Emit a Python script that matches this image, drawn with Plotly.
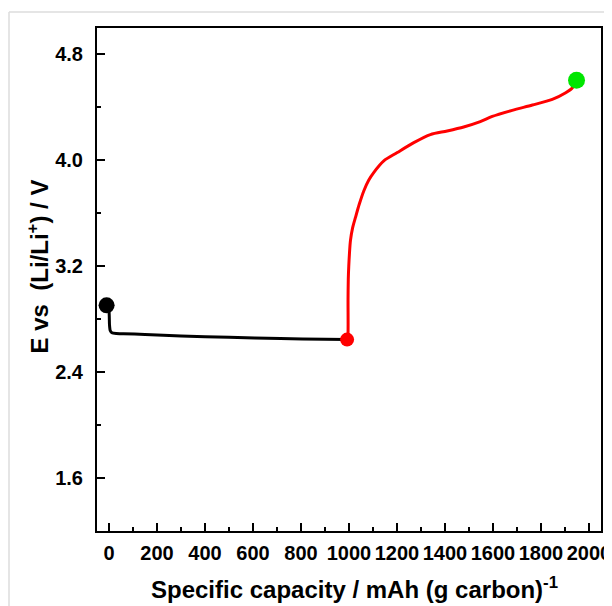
import plotly.graph_objects as go

# Discharge (black) curve
discharge_x = [-8, 0, 2, 5, 12, 30, 60, 150, 300, 500, 714, 900, 992]
discharge_y = [2.90, 2.86, 2.76, 2.715, 2.698, 2.692, 2.690, 2.685, 2.673, 2.663, 2.654, 2.649, 2.646]

# Charge (red) curve
charge_x = [994, 996, 996, 997, 999, 1002, 1006, 1015, 1027, 1043, 1062, 1082, 1103, 1145, 1201, 1270,
            1339, 1409, 1478, 1547, 1597, 1680, 1764, 1847, 1903, 1931, 1948]
charge_y = [2.646, 2.70, 2.95, 3.10, 3.20, 3.30, 3.394, 3.49, 3.569, 3.67, 3.771, 3.85, 3.908, 3.996,
            4.059, 4.134, 4.195, 4.222, 4.252, 4.292, 4.332, 4.378, 4.418, 4.461, 4.511, 4.549, 4.606]

# End-point markers
start_pt = (-10, 2.905)
mid_pt = (992, 2.646)
end_pt = (1948, 4.606)

x_ticks = [0, 200, 400, 600, 800, 1000, 1200, 1400, 1600, 1800, 2000]
y_ticks = [1.6, 2.4, 3.2, 4.0, 4.8]

fig = go.Figure()
fig.add_trace(go.Scatter(x=discharge_x, y=discharge_y, mode="lines",
                         line=dict(color="black", width=3, shape="spline", smoothing=0.5),
                         showlegend=False, hoverinfo="skip"))
fig.add_trace(go.Scatter(x=charge_x, y=charge_y, mode="lines",
                         line=dict(color="#ff0000", width=3, shape="spline", smoothing=0.8),
                         showlegend=False, hoverinfo="skip"))
fig.add_trace(go.Scatter(x=[start_pt[0]], y=[start_pt[1]], mode="markers",
                         marker=dict(color="black", size=16), showlegend=False))
fig.add_trace(go.Scatter(x=[mid_pt[0]], y=[mid_pt[1]], mode="markers",
                         marker=dict(color="#ff0000", size=14), showlegend=False))
fig.add_trace(go.Scatter(x=[end_pt[0]], y=[end_pt[1]], mode="markers",
                         marker=dict(color="#00e600", size=17), showlegend=False))

font_family = "Liberation Sans, Arial, sans-serif"

fig.update_layout(
    width=612, height=606,
    margin=dict(l=89, r=19, t=20, b=83),
    paper_bgcolor="white", plot_bgcolor="white",
    font=dict(family=font_family, color="black"),
    xaxis=dict(range=[-50, 2050], tickvals=x_ticks, ticktext=[f"<b>{v}</b>" for v in x_ticks],
               ticks="inside", ticklen=8, tickwidth=1.5, tickcolor="black",
               minor=dict(dtick=100, tick0=0, ticks="inside", ticklen=4, tickwidth=1.5, tickcolor="black"),
               showline=True, linecolor="black", linewidth=2, mirror=True,
               showgrid=False, zeroline=False, automargin=False,
               tickfont=dict(size=20, family=font_family),
               ticklabelstandoff=3),
    yaxis=dict(range=[1.2, 5.0], tickvals=y_ticks, ticktext=[f"<b>{v:.1f}</b>" for v in y_ticks],
               ticks="inside", ticklen=8, tickwidth=1.5, tickcolor="black",
               minor=dict(dtick=0.4, tick0=0, ticks="inside", ticklen=4, tickwidth=1.5, tickcolor="black"),
               showline=True, linecolor="black", linewidth=2, mirror=True,
               showgrid=False, zeroline=False, automargin=False,
               tickfont=dict(size=20, family=font_family),
               ticklabelstandoff=8),
    annotations=[
        dict(text="<b>Specific capacity / mAh (g carbon)<sup>-1</sup></b>",
             xref="paper", yref="paper", x=0.51, y=-0.113, xanchor="center", yanchor="middle",
             showarrow=False, font=dict(size=24, family=font_family)),
        dict(text="<b>E vs  (Li/Li<sup>+</sup>) / V</b>",
             xref="paper", yref="paper", x=-0.118, y=0.525, xanchor="center", yanchor="middle",
             textangle=-90, showarrow=False, font=dict(size=24, family=font_family)),
    ],
    shapes=[
        dict(type="line", xref="paper", yref="paper", x0=-0.1746, x1=1.1, y0=1.0318, y1=1.0318,
             line=dict(color="#dcdcdc", width=1.5)),
        dict(type="line", xref="paper", yref="paper", x0=-0.1746, x1=-0.1746, y0=-0.2, y1=1.0318,
             line=dict(color="#dcdcdc", width=1.5)),
    ],
)

fig.write_html("out.html")
